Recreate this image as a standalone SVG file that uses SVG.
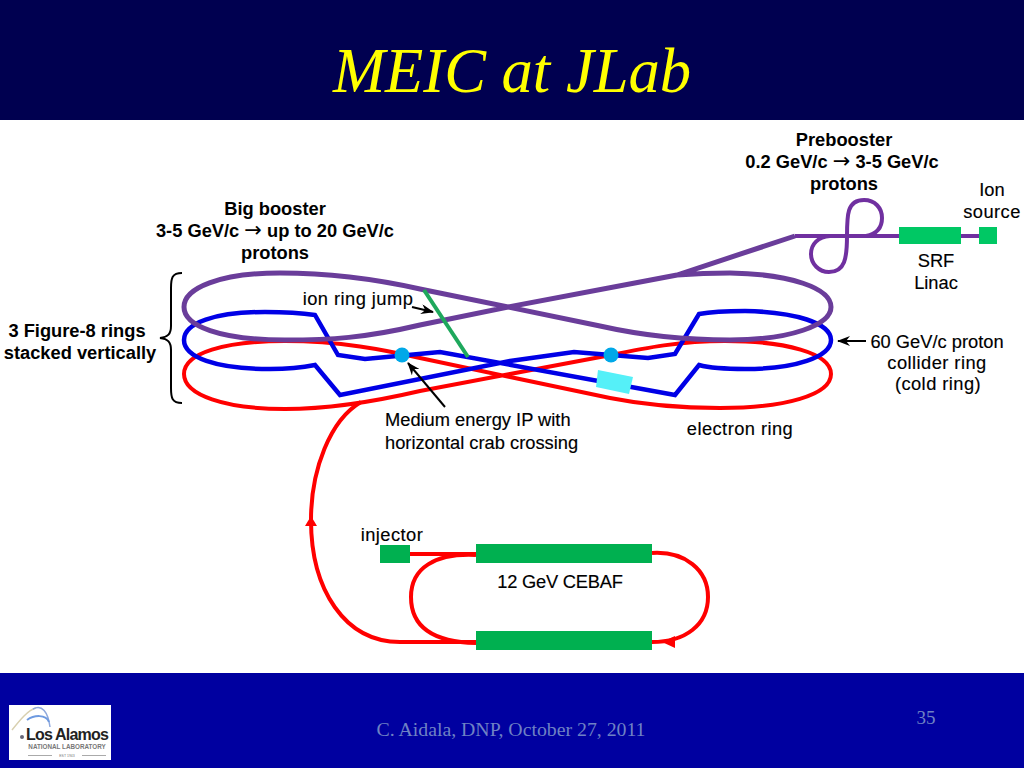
<svg xmlns="http://www.w3.org/2000/svg" width="1024" height="768" viewBox="0 0 1024 768">
<style>
.l{font-family:"Liberation Sans",Arial,"DejaVu Sans",sans-serif;font-size:18.3px;fill:#000;text-anchor:middle;stroke:#000;stroke-width:.15}
.b{font-weight:bold;stroke:none}
.w{letter-spacing:.45px}
.ar{font-family:"DejaVu Sans",sans-serif;font-weight:normal;font-size:21px}
.p{fill:none;stroke:#7030a0;stroke-width:4}
.pr{fill:none;stroke:#6a3d9a;stroke-width:5}
.bl{fill:none;stroke:#0000e6;stroke-width:4.5;stroke-linejoin:miter}
.r{fill:none;stroke:#f00;stroke-width:4}
.k{fill:none;stroke:#000;stroke-width:2}
.g{fill:#00b050}
.g2{fill:#00c864}
.f{font-family:"Liberation Serif","Times New Roman",serif;font-size:19.8px;fill:#6f82c4}
</style>
<defs>
<marker id="ah" markerWidth="13" markerHeight="10" refX="12" refY="5" orient="auto" markerUnits="userSpaceOnUse"><path d="M0 0L13 5L0 10L4 5Z" fill="#000"/></marker>
</defs>
<rect width="1024" height="768" fill="#fff"/>
<rect id="header" width="1024" height="120" fill="#000050"/>
<rect id="footer" y="673" width="1024" height="95" fill="#0000a0"/>
<text id="title" x="512" y="92" text-anchor="middle" font-family="Liberation Serif,Times New Roman,serif" font-style="italic" font-size="62.6" fill="#ffff00">MEIC at JLab</text>
<g id="connectors">
<path id="red-ring" class="r" d="M611 355L510 374L420 391C390 398 340 409 285 409C225 409 184 395 184 374C184 353 225 341 285 341C340 341 385 350 420 358L510 377L610 398C640 404 680 408 720 408C785 408 831 395 831 374C831 353 785 341 725 341C680 341 645 348 611 355Z"/>
<path id="blue-ring" class="bl" d="M315 315C295 312 280 312 265 312C215 312 184 323 184 340C184 357 215 369 270 369C290 369 305 367 315 365L340 395L510 361L574 352L648 358L675 354L699 314C715 311 730 311 745 311C795 312 831 323 831 340C831 357 795 369 745 369C725 369 710 368 699 365L675 395L440 352L365 359L338 355Z"/>
<path id="purple-ring" class="pr" d="M795 236L677 275L508 307L420 289C380 280 330 273 280 273C220 273 184 288 184 307C184 326 220 340 285 340C330 340 365 338 420 325L508 307L600 326C640 335 680 340 730 340C790 340 831 325 831 307C831 288 790 274 730 273C710 273 690 274 677 275"/>
<path id="beamline" class="p" d="M795 236L979 236"/>
<path class="p" d="M847 236C847 215 847 200 864 200C875 200 882 208 882 218C882 228 876 234 866 236"/>
<path class="p" d="M847 236C847 258 845 272 829 272C819 272 811 264 811 254C811 244 818 237 830 236"/>
<line id="jump" x1="424" y1="290" x2="468" y2="357" stroke="#1ea85c" stroke-width="4"/>
<path id="transfer" class="r" d="M361 402C330 420 311 470 311 520C311 590 345 642 400 642L476 642"/>
<path class="r" d="M410 554L476 554" stroke-width="5"/>
<path class="r" d="M476 555C435 553 411 568 411 597C411 625 430 642 476 643"/>
<path class="r" d="M652 553C685 551 708 570 708 597C708 625 685 642 652 642"/>
<path fill="#f00" d="M311 516L317 526L305 526Z"/>
<path fill="#f00" d="M662 642L675 636L675 648Z"/>
<path id="brace" class="k" d="M182 273C172 273 171 278 171 288L171 326C171 334 168 337 160 338C168 339 171 342 171 350L171 388C171 398 172 403 182 403"/>
<path class="k" d="M412 307L433 312" marker-end="url(#ah)"/>
<path class="k" d="M445 407L408 363" marker-end="url(#ah)"/>
<path class="k" d="M866 341L838 341" marker-end="url(#ah)"/>
</g>
<g id="ip1"><circle cx="402" cy="355" r="7.5" fill="#00a8e8"/></g>
<g id="ip2"><circle cx="611" cy="355" r="7.5" fill="#00a8e8"/></g>
<g id="crab"><polygon points="598,370 633,377 629,394 596,387" fill="#55f0f8"/></g>
<g id="srf"><rect class="g2" x="899" y="227" width="62" height="17"/></g>
<g id="ion"><rect class="g2" x="979" y="227" width="18" height="17"/></g>
<g id="injector"><rect class="g" x="380" y="545" width="30" height="18"/></g>
<g id="cebaf1"><rect class="g" x="476" y="544" width="176" height="19"/></g>
<g id="cebaf2"><rect class="g" x="476" y="631" width="176" height="19"/></g>
<g id="labels" transform="translate(0 0.6)">
<text class="l b" x="844" y="145">Prebooster</text>
<text class="l b" x="842" y="167">0.2 GeV/c <tspan class="ar">→</tspan> 3-5 GeV/c</text>
<text class="l b" x="844" y="189">protons</text>
<text class="l b" x="275" y="214">Big booster</text>
<text class="l b" x="275" y="236">3-5 GeV/c <tspan class="ar">→</tspan> up to 20 GeV/c</text>
<text class="l b" x="275" y="258">protons</text>
<text class="l b" x="77" y="336">3 Figure-8 rings</text>
<text class="l b" x="80" y="358">stacked vertically</text>
<text class="l" x="992" y="195">Ion</text>
<text class="l w" x="992" y="217">source</text>
<text class="l" x="936" y="266">SRF</text>
<text class="l" x="936" y="288">Linac</text>
<text class="l w" x="358" y="304">ion ring jump</text>
<text class="l" x="937" y="347">60 GeV/c proton</text>
<text class="l w" x="937" y="368">collider ring</text>
<text class="l w" x="938" y="389">(cold ring)</text>
<text class="l" x="385" y="425" style="text-anchor:start">Medium energy IP with</text>
<text class="l" x="385" y="448" style="text-anchor:start">horizontal crab crossing</text>
<text class="l w" x="740" y="434">electron ring</text>
<text class="l w" x="392" y="540">injector</text>
<text class="l" x="560" y="587" style="letter-spacing:-.2px">12 GeV CEBAF</text>
</g>
<g id="logo">
<rect x="9" y="705" width="102" height="55" fill="#fff"/>
<path d="M12 730C20 720 28 710 36 708" fill="none" stroke="#d8d0b0" stroke-width="1.5"/>
<path d="M33 709C42 704 48 712 50 727" fill="none" stroke="#8ea8dc" stroke-width="1.5"/>
<path d="M27 720C34 715 46 714 49 722" fill="none" stroke="#6e9ae0" stroke-width="2"/>
<circle cx="22" cy="737" r="2" fill="#667"/>
<text x="67" y="740" text-anchor="middle" font-family="Liberation Sans,sans-serif" font-size="16" font-weight="bold" letter-spacing="-0.8" fill="#222">Los Alamos</text>
<text x="67" y="749" text-anchor="middle" font-family="Liberation Sans,sans-serif" font-size="6.3" font-weight="bold" fill="#777">NATIONAL LABORATORY</text>
<text x="67" y="757" text-anchor="middle" font-family="Liberation Sans,sans-serif" font-size="3.5" fill="#777">EST 1943</text>
<path d="M28 755.500H52M82 755.500H106" stroke="#aaa" stroke-width="1"/>
</g>
<text class="f" x="511" y="736" text-anchor="middle">C. Aidala, DNP, October 27, 2011</text>
<text class="f" x="926" y="724" text-anchor="middle" style="font-size:19px">35</text>
</svg>
